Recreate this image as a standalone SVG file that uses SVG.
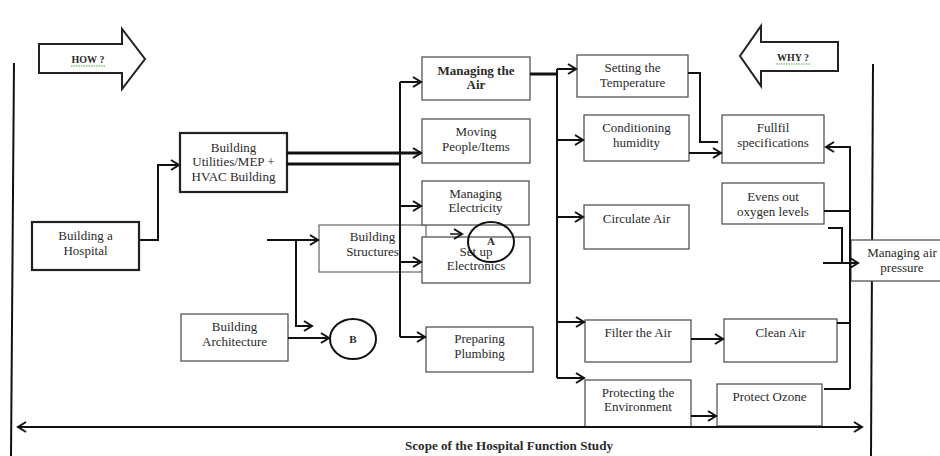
<svg xmlns="http://www.w3.org/2000/svg" width="940" height="456" viewBox="0 0 940 456">
<defs>
<style>
.bx{fill:#fff;stroke:#555;stroke-width:1.3}
.bxk{fill:#fff;stroke:#222;stroke-width:2.2}
.bxn{fill:none;stroke:#666;stroke-width:1.2}
.t{font-family:"Liberation Serif","Times New Roman",serif;font-size:13px;fill:#2a2a2a;text-anchor:middle}
.b{font-weight:bold}
.sm{font-size:10px;font-weight:bold}
.c{fill:none;stroke:#111;stroke-width:2}
.ck{fill:none;stroke:#111;stroke-width:3}
.ar{marker-end:url(#ah)}
.circ{fill:none;stroke:#111;stroke-width:2}
.sq{fill:none;stroke:#4a4;stroke-width:1;stroke-dasharray:1.5,1}
</style>
<marker id="ah" markerWidth="12" markerHeight="12" refX="9" refY="6" orient="auto-start-reverse" markerUnits="userSpaceOnUse">
<path d="M1,1 L9,6 L1,11" fill="none" stroke="#111" stroke-width="2"/>
</marker>
</defs>
<rect width="940" height="456" fill="#fff"/>

<g id="frame">
<path d="M14,63 L11,456" class="c"/>
<path d="M873,64 L871,456" class="c"/>
</g>

<g id="how">
<polygon points="39,44 122,44 122,29 145,59 122,89 122,73 39,73" fill="#fff" stroke="#222" stroke-width="2"/>
<text x="88" y="63" class="t sm">HOW ?</text>
<path d="M71,66 H106" class="sq"/>
</g>
<g id="why">
<polygon points="838,42 761,42 761,26 740,56 761,86 761,71 838,71" fill="#fff" stroke="#222" stroke-width="2"/>
<text x="793" y="61" class="t sm">WHY ?</text>
<path d="M776,64 H811" class="sq"/>
</g>

<g id="hospital">
<rect x="32" y="222" width="107" height="48" class="bxk"/>
<text x="85.5" y="240" class="t">Building a</text>
<text x="85.5" y="255" class="t">Hospital</text>
</g>
<g id="utilities">
<rect x="180" y="133" width="107" height="59" class="bxk"/>
<text x="233.5" y="152" class="t">Building</text>
<text x="233.5" y="166" class="t">Utilities/MEP +</text>
<text x="233.5" y="181" class="t">HVAC Building</text>
</g>
<g id="architecture">
<rect x="181" y="314" width="107" height="47" class="bx"/>
<text x="234.5" y="331" class="t">Building</text>
<text x="234.5" y="346" class="t">Architecture</text>
</g>
<g id="structures">
<rect x="319" y="225" width="107" height="47" class="bxn"/>
<text x="372.5" y="241" class="t">Building</text>
<text x="372.5" y="256" class="t">Structures</text>
</g>
<g id="air">
<rect x="422" y="57" width="108" height="43" class="bx"/>
<text x="476" y="75" class="t b">Managing the</text>
<text x="476" y="89" class="t b">Air</text>
</g>
<g id="moving">
<rect x="422" y="119" width="108" height="44" class="bx"/>
<text x="476" y="136" class="t">Moving</text>
<text x="476" y="151" class="t">People/Items</text>
</g>
<g id="electricity">
<rect x="422" y="181" width="107" height="44" class="bx"/>
<text x="475.5" y="198" class="t">Managing</text>
<text x="475.5" y="212" class="t">Electricity</text>
</g>
<g id="electronics">
<rect x="422" y="237" width="108" height="46" class="bx"/>
<text x="476" y="256" class="t">Set up</text>
<text x="476" y="270" class="t">Electronics</text>
</g>
<g id="circleA">
<ellipse cx="491" cy="242" rx="23" ry="20" class="circ"/>
<text x="491" y="245" class="t b" style="font-size:11px">A</text>
</g>
<g id="circleB">
<ellipse cx="353" cy="339" rx="23" ry="20" class="circ"/>
<text x="353" y="343" class="t b" style="font-size:11px">B</text>
</g>
<g id="plumbing">
<rect x="426" y="327" width="107" height="45" class="bx"/>
<text x="479.5" y="343" class="t">Preparing</text>
<text x="479.5" y="358" class="t">Plumbing</text>
</g>
<g id="temperature">
<rect x="577" y="55" width="111" height="42" class="bx"/>
<text x="632.5" y="72" class="t">Setting the</text>
<text x="632.5" y="87" class="t">Temperature</text>
</g>
<g id="humidity">
<rect x="584" y="115" width="105" height="46" class="bx"/>
<text x="636.5" y="132" class="t">Conditioning</text>
<text x="636.5" y="147" class="t">humidity</text>
</g>
<g id="circulate">
<rect x="584" y="205" width="105" height="44" class="bx"/>
<text x="636.5" y="223" class="t">Circulate Air</text>
</g>
<g id="filter">
<rect x="585" y="320" width="106" height="42" class="bx"/>
<text x="638" y="337" class="t">Filter the Air</text>
</g>
<g id="environment">
<rect x="585" y="380" width="106" height="47" class="bx"/>
<text x="638" y="397" class="t">Protecting the</text>
<text x="638" y="411" class="t">Environment</text>
</g>
<g id="specifications">
<rect x="722" y="115" width="102" height="48" class="bx"/>
<text x="773" y="132" class="t">Fullfil</text>
<text x="773" y="147" class="t">specifications</text>
</g>
<g id="oxygen">
<rect x="722" y="183" width="102" height="41" class="bx"/>
<text x="773" y="201" class="t">Evens out</text>
<text x="773" y="216" class="t">oxygen levels</text>
</g>
<g id="pressure">
<rect x="851" y="240" width="100" height="41" class="bx"/>
<text x="902" y="257" class="t">Managing air</text>
<text x="902" y="272" class="t">pressure</text>
</g>
<g id="cleanair">
<rect x="724" y="319" width="113" height="43" class="bx"/>
<text x="780.5" y="337" class="t">Clean Air</text>
</g>
<g id="ozone">
<rect x="717" y="384" width="105" height="42" class="bx"/>
<text x="769.5" y="401" class="t">Protect Ozone</text>
</g>

<g id="connectors">
<path d="M139,240 H158 V165 H179" class="c ar"/>
<path d="M287,153 H421" class="ck"/>
<path d="M400,153 H421" class="c ar"/>
<path d="M287,164 H400" class="ck"/>
<path d="M400,82 V337" class="c"/>
<path d="M400,82 H421" class="c ar"/>
<path d="M400,206 H421" class="c ar"/>
<path d="M400,262 H421" class="c ar"/>
<path d="M400,337 H425" class="c ar"/>
<path d="M450,234 H462" class="c ar" style="stroke-width:1.5"/>
<path d="M267,240 H318" class="c ar"/>
<path d="M296,240 V326 H312" class="c ar"/>
<path d="M288,338 H329" class="c ar"/>
<path d="M530,74 H557" class="ck"/>
<path d="M557,69 V378" class="c"/>
<path d="M557,69 H576" class="c ar"/>
<path d="M557,140 H583" class="c ar"/>
<path d="M557,217 H583" class="c ar"/>
<path d="M557,322 H584" class="c ar"/>
<path d="M557,378 H584" class="c ar"/>
<path d="M688,73 H700 V142 H718" class="c"/>
<path d="M689,153 H721" class="c ar"/>
<path d="M691,339 H723" class="c ar"/>
<path d="M691,416 H716" class="c ar"/>
<path d="M850,389 V147 H826" class="c ar"/>
<path d="M824,211 H850" class="c"/>
<path d="M837,323 H850" class="c"/>
<path d="M824,389 H850" class="c"/>
<path d="M828,228 H842 V263" class="c"/>
<path d="M823,263 H858" class="c ar"/>
<path d="M18,427 H862" class="c" marker-start="url(#ah)" marker-end="url(#ah)"/>
</g>

<text x="509" y="450" class="t b" style="font-size:11.5px" textLength="208" lengthAdjust="spacingAndGlyphs">Scope of the Hospital Function Study</text>
</svg>
